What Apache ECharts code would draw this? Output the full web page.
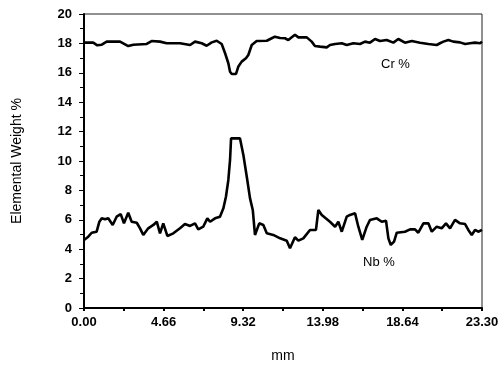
<!DOCTYPE html>
<html>
<head>
<meta charset="utf-8">
<script src="https://cdn.jsdelivr.net/npm/echarts@6/dist/echarts.min.js"></script>
<style>
	html, body { margin: 0; padding: 0; background: #fff; }
	#chart { width: 504px; height: 369px; }
</style>
</head>
<body>
<div id="chart"></div>
<script>
	// distance along the scan, mm
	var crX = [0, 0.54, 0.78, 1.04, 1.33, 2.11, 2.59, 2.89, 3.67, 3.96, 4.45, 4.84, 5.62, 6.21, 6.50, 6.89, 7.18, 7.48, 7.77, 8.06,
		8.26, 8.45, 8.55, 8.65, 8.90, 9.03, 9.23, 9.48, 9.62, 9.82, 10.11, 10.70, 10.99, 11.18, 11.48, 11.77, 11.96, 12.35, 12.55, 13.04,
		13.33, 13.52, 13.82, 14.21, 14.40, 14.70, 15.09, 15.38, 15.77, 16.16, 16.45, 16.74, 17.04, 17.33, 17.72, 18.11, 18.40, 18.79, 19.19, 19.67,
		20.16, 20.65, 20.84, 21.04, 21.33, 21.62, 22.01, 22.31, 22.60, 22.89, 23.19, 23.30];
	var crY = [18.05, 18.05, 17.87, 17.91, 18.12, 18.12, 17.82, 17.91, 17.96, 18.16, 18.12, 18.01, 18.01, 17.89, 18.12, 18.01, 17.84, 18.07, 18.18, 17.96,
		17.33, 16.65, 16.07, 15.92, 15.92, 16.41, 16.76, 16.99, 17.21, 17.89, 18.16, 18.18, 18.35, 18.46, 18.37, 18.35, 18.23, 18.59, 18.41, 18.41,
		18.12, 17.82, 17.78, 17.73, 17.89, 17.96, 18.01, 17.89, 18.01, 17.96, 18.12, 18.05, 18.30, 18.16, 18.23, 18.05, 18.30, 18.05, 18.16, 18.05,
		17.96, 17.89, 18.01, 18.12, 18.23, 18.12, 18.07, 17.96, 18.01, 18.05, 18.01, 18.12];

	var nbX = [0, 0.25, 0.45, 0.74, 0.90, 1.04, 1.23, 1.42, 1.68, 1.91, 2.15, 2.34, 2.59, 2.79, 3.09, 3.28, 3.47, 3.76, 4.06, 4.26,
		4.45, 4.64, 4.88, 5.23, 5.62, 5.91, 6.21, 6.50, 6.69, 6.98, 7.22, 7.38, 7.67, 7.96, 8.16, 8.31, 8.45, 8.55, 8.61, 9.13,
		9.33, 9.53, 9.72, 9.88, 10.01, 10.26, 10.50, 10.70, 11.08, 11.48, 11.87, 12.06, 12.35, 12.55, 12.84, 13.23, 13.58, 13.72, 13.92, 14.40,
		14.70, 14.89, 15.09, 15.38, 15.57, 15.87, 16.06, 16.29, 16.55, 16.74, 17.14, 17.43, 17.68, 17.82, 17.96, 18.15, 18.31, 18.79, 19.09, 19.38,
		19.57, 19.87, 20.16, 20.36, 20.65, 20.94, 21.19, 21.43, 21.72, 22.01, 22.31, 22.50, 22.70, 22.89, 23.08, 23.30];
	var nbY = [4.63, 4.85, 5.12, 5.19, 5.87, 6.10, 6.03, 6.10, 5.65, 6.21, 6.39, 5.76, 6.48, 5.87, 5.80, 5.42, 4.97, 5.42, 5.65, 5.87,
		5.08, 5.76, 4.90, 5.08, 5.42, 5.71, 5.58, 5.76, 5.35, 5.53, 6.10, 5.87, 6.10, 6.21, 6.78, 7.57, 8.71, 10.07, 11.54, 11.54,
		10.41, 8.93, 7.46, 6.67, 4.97, 5.76, 5.65, 5.08, 4.97, 4.74, 4.58, 4.06, 4.81, 4.58, 4.74, 5.31, 5.31, 6.67, 6.33, 5.87,
		5.53, 5.87, 5.19, 6.21, 6.33, 6.44, 5.53, 4.63, 5.53, 5.99, 6.10, 5.87, 5.94, 4.74, 4.29, 4.51, 5.12, 5.19, 5.35, 5.35,
		5.12, 5.76, 5.76, 5.19, 5.53, 5.42, 5.76, 5.42, 5.99, 5.76, 5.71, 5.31, 4.97, 5.31, 5.19, 5.31];

	var xTicks = [0, 4.66, 9.32, 13.98, 18.64, 23.30];

	function pairs(xs, ys) {
		var out = [];
		for (var i = 0; i < xs.length; i++) {
			out.push([xs[i], ys[i]]);
		}
		return out;
	}

	var font = 'Liberation Sans, Arial, sans-serif';
	var chart = echarts.init(document.getElementById('chart'), null, { renderer: 'canvas' });

	var option = {
		animation: false,
		grid: {
			left: 84,
			right: 22,
			top: 14,
			bottom: 61,
			show: true,
			borderColor: '#222',
			borderWidth: 1
		},
		xAxis: {
			type: 'value',
			min: 0,
			max: xTicks[xTicks.length - 1],
			interval: xTicks[1],
			name: 'mm',
			nameLocation: 'middle',
			nameGap: 41,
			nameTextStyle: { color: '#000', fontFamily: font, fontSize: 14 },
			axisLine: { lineStyle: { color: '#000', width: 2 } },
			axisTick: { length: 3, lineStyle: { color: '#000', width: 2 } },
			minorTick: { show: true, splitNumber: 2, length: 3, lineStyle: { color: '#000', width: 2 } },
			splitLine: { show: false },
			axisLabel: {
				color: '#000',
				fontFamily: font,
				fontSize: 13,
				fontWeight: 'bold',
				margin: 8,
				formatter: function (v) { return v.toFixed(2); }
			}
		},
		yAxis: {
			type: 'value',
			min: 0,
			max: 20,
			interval: 2,
			name: 'Elemental Weight %',
			nameLocation: 'middle',
			nameGap: 60,
			nameTextStyle: { color: '#000', fontFamily: font, fontSize: 14 },
			axisLine: { show: true, lineStyle: { color: '#000', width: 2 } },
			axisTick: { show: true, length: 5, lineStyle: { color: '#000', width: 1 } },
			minorTick: { show: true, splitNumber: 2, length: 4, lineStyle: { color: '#000', width: 1 } },
			splitLine: { show: false },
			axisLabel: {
				color: '#000',
				fontFamily: font,
				fontSize: 13,
				fontWeight: 'bold',
				margin: 12
			}
		},
		graphic: [
			{ type: 'text', left: 381, top: 58, style: { text: 'Cr %', fill: '#000', font: '13px ' + font } },
			{ type: 'text', left: 363, top: 256, style: { text: 'Nb %', fill: '#000', font: '13px ' + font } }
		],
		series: [
			{
				name: 'Cr %',
				type: 'line',
				data: pairs(crX, crY),
				showSymbol: false,
				lineStyle: { color: '#000', width: 2.6 }
			},
			{
				name: 'Nb %',
				type: 'line',
				data: pairs(nbX, nbY),
				showSymbol: false,
				lineStyle: { color: '#000', width: 2.6 }
			}
		]
	};

	chart.setOption(option);
</script>
</body>
</html>
